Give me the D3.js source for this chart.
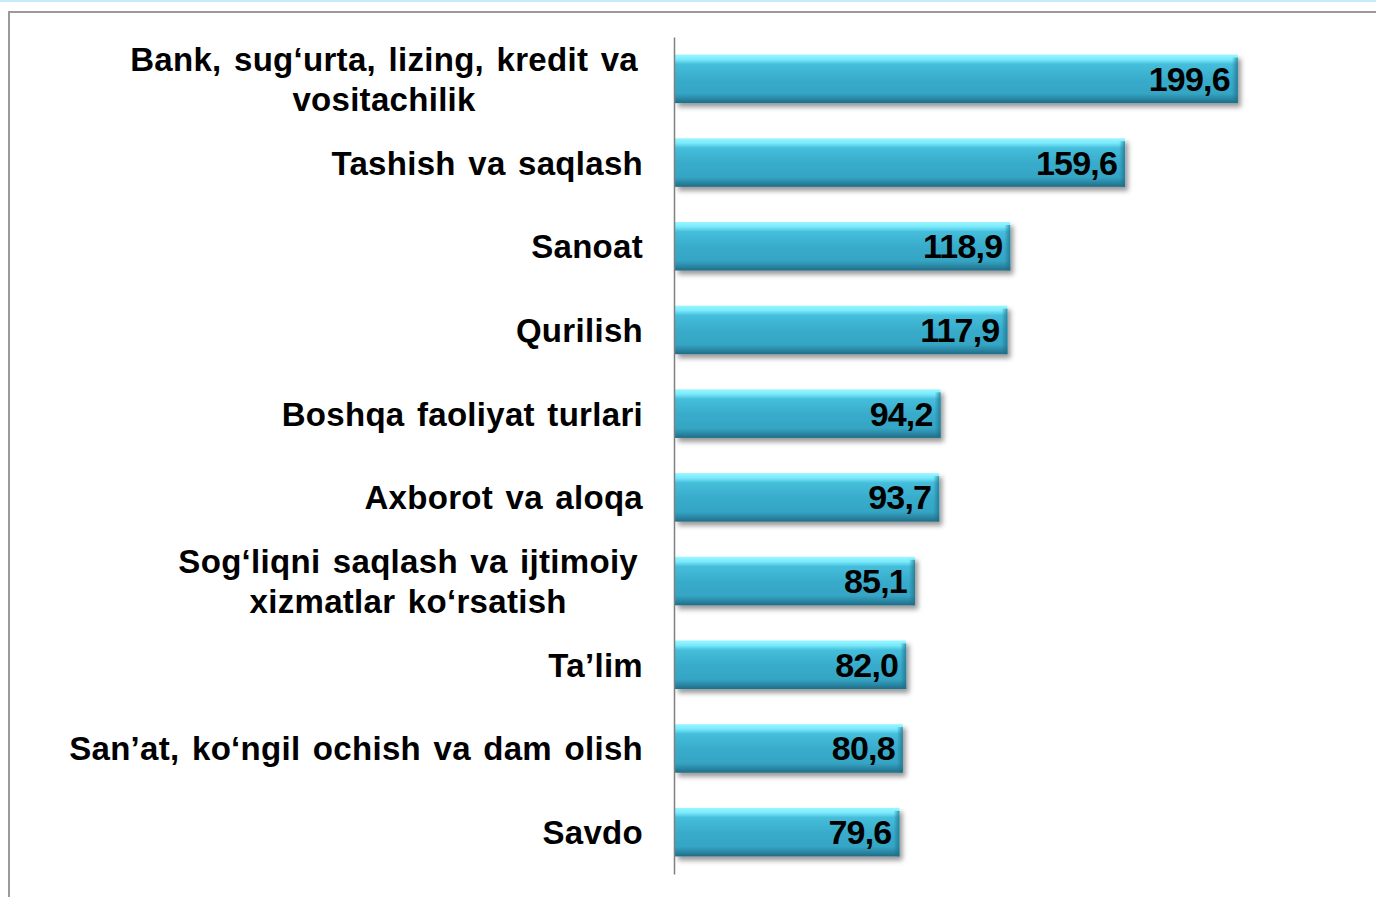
<!DOCTYPE html>
<html>
<head>
<meta charset="utf-8">
<script src="https://cdn.jsdelivr.net/npm/d3@7"></script>
<style>
  html, body { margin: 0; padding: 0; background: #fff; }
  svg { display: block; }
</style>
</head>
<body>
<div id="container"></div>
<script>
const width = 1376;
const height = 897;

// Categories (top to bottom), "\n" marks a line break in the label
const categories = [
  "Bank, sug‘urta, lizing, kredit va\nvositachilik",
  "Tashish va saqlash",
  "Sanoat",
  "Qurilish",
  "Boshqa faoliyat turlari",
  "Axborot va aloqa",
  "Sog‘liqni saqlash va ijtimoiy\nxizmatlar ko‘rsatish",
  "Ta’lim",
  "San’at, ko‘ngil ochish va dam olish",
  "Savdo"
];

const values = [199.6, 159.6, 118.9, 117.9, 94.2, 93.7, 85.1, 82.0, 80.8, 79.6];

const data = categories.map((c, i) => ({ name: c, value: values[i] }));

const svg = d3.select("#container")
  .append("svg")
  .attr("width", width)
  .attr("height", height);

const defs = svg.append("defs");

// bevelled bar fill
const grad = defs.append("linearGradient")
  .attr("id", "barGrad")
  .attr("x1", 0).attr("y1", 0).attr("x2", 0).attr("y2", 1);
[
  [0, "#9af6ff"], [0.1, "#7aeafd"], [0.2, "#45bedb"],
  [0.5, "#39accb"], [0.8, "#35a5c4"], [0.9, "#2b8aa8"], [1, "#216c86"]
].forEach(([o, c]) => grad.append("stop").attr("offset", o).attr("stop-color", c));

const edge = defs.append("linearGradient")
  .attr("id", "edgeGrad")
  .attr("x1", 0).attr("y1", 0).attr("x2", 1).attr("y2", 0);
edge.append("stop").attr("offset", 0).attr("stop-color", "#1f6f88").attr("stop-opacity", 0);
edge.append("stop").attr("offset", 1).attr("stop-color", "#1f6f88").attr("stop-opacity", 0.75);

const shadow = defs.append("filter")
  .attr("id", "shadow")
  .attr("x", "-5%").attr("y", "-30%").attr("width", "115%").attr("height", "190%");
shadow.append("feDropShadow")
  .attr("dx", 3).attr("dy", 4)
  .attr("stdDeviation", 2.5)
  .attr("flood-color", "#000")
  .attr("flood-opacity", 0.4);

// frame lines
svg.append("rect")
  .attr("x", 0).attr("y", 0)
  .attr("width", width).attr("height", 2)
  .attr("fill", "#c6ecfb");

svg.append("path")
  .attr("d", `M9,${height} V12 H${width}`)
  .attr("fill", "none")
  .attr("stroke", "#9a9a9a")
  .attr("stroke-width", 2);

const x = d3.scaleLinear()
  .domain([0, 200])
  .range([675, 1239]);

const y = d3.scaleBand()
  .domain(categories)
  .range([37, 874])
  .paddingInner(0.42)
  .paddingOuter(0.21);

// bars
const bars = svg.append("g").selectAll("g.bar")
  .data(data)
  .enter()
  .append("g")
  .attr("class", "bar");

bars.append("rect")
  .attr("x", x(0))
  .attr("y", d => y(d.name))
  .attr("width", d => x(d.value) - x(0))
  .attr("height", y.bandwidth())
  .attr("fill", "url(#barGrad)")
  .attr("filter", "url(#shadow)");

bars.append("rect")
  .attr("x", d => x(d.value) - 6)
  .attr("y", d => y(d.name) + 3)
  .attr("width", 6)
  .attr("height", y.bandwidth() - 3)
  .attr("fill", "url(#edgeGrad)");

bars.append("text")
  .attr("x", d => x(d.value) - 8)
  .attr("y", d => y(d.name) + y.bandwidth() / 2 + 12)
  .attr("text-anchor", "end")
  .style("font-family", "'Liberation Sans', Arial, sans-serif")
  .style("font-weight", "bold")
  .style("font-size", "34px")
  .style("letter-spacing", "-0.8px")
  .attr("fill", "#000")
  .text(d => d3.format(".1f")(d.value).replace(".", ","));

// axis line on the left of the bars
svg.append("g")
  .attr("transform", `translate(${x(0) - 1},0)`)
  .call(d3.axisLeft(y).tickSize(0).tickFormat(""))
  .call(g => g.select(".domain").attr("stroke", "#808080").attr("stroke-width", 1.5));

// category labels
const labelRight = 643;
const labels = svg.append("g").selectAll("text.label")
  .data(data)
  .enter()
  .append("text")
  .attr("class", "label")
  .style("font-family", "'Liberation Sans', Arial, sans-serif")
  .style("font-weight", "bold")
  .style("font-size", "33px")
  .style("letter-spacing", "0.3px")
  .style("word-spacing", "3px")
  .attr("fill", "#000");

labels.each(function(d) {
  const t = d3.select(this);
  const lines = d.name.split("\n");
  const cy = y(d.name) + y.bandwidth() / 2;
  const lineH = 40;
  const first = cy - (lines.length - 1) * lineH / 2;
  const spans = lines.map((ln, i) => t.append("tspan")
    .attr("y", first + i * lineH + 12)
    .text(ln));
  if (lines.length === 1) {
    t.attr("text-anchor", "end");
    spans[0].attr("x", labelRight);
  } else {
    const w = d3.max(spans, s => s.node().getComputedTextLength());
    t.attr("text-anchor", "middle");
    spans.forEach(s => s.attr("x", labelRight - 5 - w / 2));
  }
});
</script>
</body>
</html>
